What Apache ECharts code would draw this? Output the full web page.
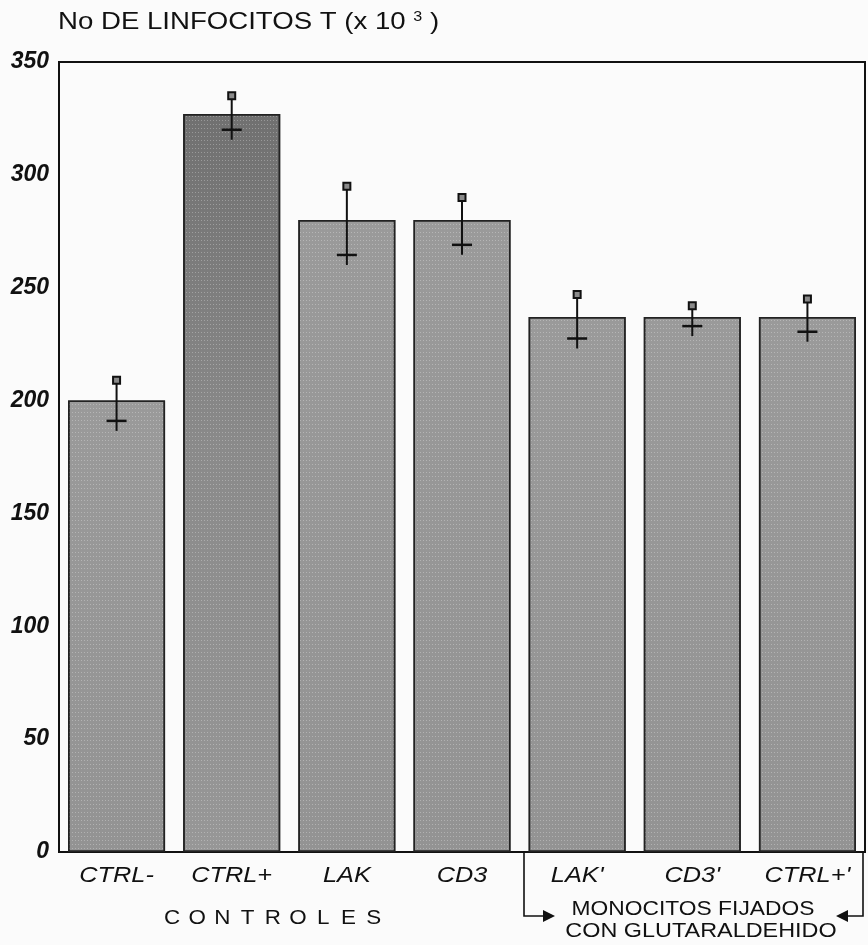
<!DOCTYPE html>
<html>
<head>
<meta charset="utf-8">
<script src="https://cdn.jsdelivr.net/npm/echarts@6/dist/echarts.min.js"></script>
<style>
  html, body { margin: 0; padding: 0; background: #fbfbfb; }
  #chart { width: 868px; height: 945px; }
</style>
</head>
<body>
<div id="chart"></div>
<script>
// Number of T lymphocytes (x10^3) per culture condition
const categories = ['CTRL-', 'CTRL+', 'LAK', 'CD3', "LAK'", "CD3'", "CTRL+'"];
const means      = [200, 327, 280, 280, 237, 237, 237];
const upperBars  = [209, 335, 295, 290, 247, 242, 245];
const lowerBars  = [191, 320, 264.5, 269, 227.5, 233, 230.5];
const yTicks     = [0, 50, 100, 150, 200, 250, 300, 350];

const FONT = '"Liberation Sans", Arial, sans-serif';
const INK = '#111111';
const WIDE = 1.15;   // horizontal stretch of the lettering

const chart = echarts.init(document.getElementById('chart'), null, { renderer: 'canvas' });

// Bar fill: medium grey, the CTRL+ bar darker toward its top
function barFill(i) {
  if (i === 1) {
    return new echarts.graphic.LinearGradient(0, 0, 0, 1, [
      { offset: 0, color: '#707070' },
      { offset: 0.45, color: '#8a8a8a' },
      { offset: 1, color: '#979797' }
    ]);
  }
  return new echarts.graphic.LinearGradient(0, 0, 0, 1, [
    { offset: 0, color: '#9a9a9a' },
    { offset: 1, color: '#939393' }
  ]);
}

const errData = categories.map((c, i) => [i, upperBars[i], lowerBars[i]]);
const labelData = categories.map((c, i) => [i, 0]);

function stretchedText(x, y, text, size, scaleX) {
  return {
    type: 'text',
    x: x, y: y,
    scaleX: scaleX,
    style: { text: text, font: 'normal ' + size + 'px ' + FONT, fill: INK, textAlign: 'center', textVerticalAlign: 'top' }
  };
}

const option = {
  backgroundColor: '#fbfbfb',
  animation: false,
  grid: {
    left: 59, right: 3, top: 62, bottom: 93,
    show: true, borderColor: INK, borderWidth: 2, backgroundColor: 'transparent'
  },
  xAxis: {
    type: 'category',
    data: categories,
    axisLine: { show: true, lineStyle: { color: INK, width: 2 } },
    axisTick: { show: false },
    axisLabel: { show: false }
  },
  yAxis: {
    type: 'value',
    min: 0,
    max: 350,
    interval: 50,
    axisLine: { show: true, lineStyle: { color: INK, width: 2 } },
    axisTick: { show: false },
    splitLine: { show: false },
    axisLabel: {
      margin: 10,
      fontFamily: FONT,
      fontStyle: 'italic',
      fontWeight: 'bold',
      fontSize: 23,
      color: INK,
      formatter: v => (yTicks.indexOf(v) >= 0 ? String(v) : '')
    }
  },
  series: [
    {
      type: 'bar',
      barWidth: 97,
      data: means.map((v, i) => ({
        value: v,
        itemStyle: {
          color: barFill(i),
          decal: {
            symbol: 'rect',
            symbolSize: 1,
            dashArrayX: [1, 2],
            dashArrayY: [1, 3],
            rotation: 0,
            color: 'rgba(255,255,255,0.28)'
          }
        }
      })),
      itemStyle: { borderColor: '#222', borderWidth: 1.5 },
      z: 2
    },
    {
      // error bars: line from upper to lower value, square cap on top, cross tick at the lower value
      type: 'custom',
      z: 5,
      data: errData,
      renderItem: function (params, api) {
        const x = api.value(0);
        const top = api.coord([x, api.value(1)]);
        const low = api.coord([x, api.value(2)]);
        const half = 10;
        return {
          type: 'group',
          children: [
            {
              type: 'line',
              shape: { x1: top[0], y1: top[1], x2: low[0], y2: low[1] + 10 },
              style: { stroke: INK, lineWidth: 2 }
            },
            {
              type: 'line',
              shape: { x1: low[0] - half, y1: low[1], x2: low[0] + half, y2: low[1] },
              style: { stroke: INK, lineWidth: 2.5 }
            },
            {
              type: 'rect',
              shape: { x: top[0] - 3.5, y: top[1] - 3.5, width: 7, height: 7 },
              style: { fill: '#8a8a8a', stroke: INK, lineWidth: 2 }
            }
          ]
        };
      }
    },
    {
      // category names under the axis, in wide italic lettering
      type: 'custom',
      z: 5,
      clip: false,
      data: labelData,
      renderItem: function (params, api) {
        const p = api.coord([api.value(0), 0]);
        return {
          type: 'text',
          x: p[0],
          y: p[1] + 13,
          scaleX: WIDE,
          style: {
            text: categories[api.value(0)],
            font: 'italic 22px ' + FONT,
            fill: INK,
            textAlign: 'center',
            textVerticalAlign: 'top'
          }
        };
      }
    }
  ],
  graphic: [
    // axis title
    {
      type: 'text',
      x: 58,
      y: 10,
      scaleX: 1.15,
      style: {
        text: 'No DE LINFOCITOS T (x 10 {sup|3} )',
        font: 'normal 24px ' + FONT,
        fill: INK,
        textVerticalAlign: 'top',
        rich: {
          sup: { font: 'normal 14px ' + FONT, fill: INK, verticalAlign: 'top', padding: [0, 0, 11, 0] }
        }
      }
    },
    // "CONTROLES" caption under the first four groups, letter spaced
    {
      type: 'group',
      children: 'CONTROLES'.split('').map((ch, k) =>
        stretchedText(172 + k * 25.2, 908, ch, 20, 1.12))
    },
    // bracket around the fixed-monocyte groups
    {
      type: 'polyline',
      shape: { points: [[524, 853], [524, 916], [546, 916]] },
      style: { stroke: INK, lineWidth: 1.6, fill: null }
    },
    {
      type: 'polygon',
      shape: { points: [[543, 910], [555, 916], [543, 922]] },
      style: { fill: INK }
    },
    {
      type: 'polyline',
      shape: { points: [[863, 853], [863, 916], [845, 916]] },
      style: { stroke: INK, lineWidth: 1.6, fill: null }
    },
    {
      type: 'polygon',
      shape: { points: [[848, 910], [836, 916], [848, 922]] },
      style: { fill: INK }
    },
    stretchedText(693, 899, 'MONOCITOS FIJADOS', 20, 1.14),
    stretchedText(701, 921, 'CON GLUTARALDEHIDO', 20, 1.17)
  ]
};

chart.setOption(option);
</script>
</body>
</html>
